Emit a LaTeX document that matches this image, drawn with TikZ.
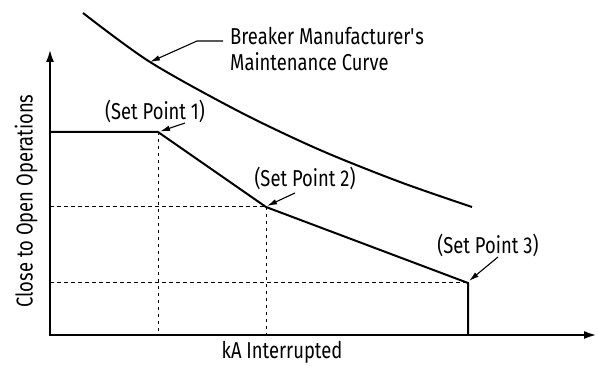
\documentclass[tikz,border=0pt]{standalone}
\usepackage{fontspec}
\setmainfont[FakeStretch=0.8]{Fira Sans}
\usetikzlibrary{arrows.meta}
\begin{document}
\begin{tikzpicture}[x=1pt, y=-1pt,
      every node/.style = {font=\fontsize{23}{26}\selectfont, inner sep=0pt},
      axis/.style = {line width=2.4pt, line join=miter,
        {Latex[length=13pt,width=8pt]}-{Latex[length=13pt,width=8pt]}},
      curve/.style = {line width=2pt},
      guide/.style = {line width=1pt, dash pattern=on 3.5pt off 3.5pt},
      pointer/.style = {line width=1.1pt, -{Latex[length=10pt,width=5.5pt]}}]
    \useasboundingbox (0,0) rectangle (598,366);
    \coordinate (origin) at (50,335);
    \coordinate (ytop) at (50,49);
    \coordinate (xend) at (597,335);
    \coordinate (start) at (50,132);
    \coordinate (sp1) at (158,132);
    \coordinate (sp2) at (266,207);
    \coordinate (sp3) at (468,283);
    \coordinate (foot) at (468,335);
    \coordinate (mc) at (150,62);
    \draw[guide] (sp1) -- (sp1 |- origin);
    \draw[guide] (sp2) -- (sp2 |- origin);
    \draw[guide] (sp2 -| origin) -- (sp2);
    \draw[guide] (sp3 -| origin) -- (sp3);
    \draw[axis] (ytop) -- (origin) -- (xend);
    \draw[curve] (start) -- (sp1) -- (sp2) -- (sp3) -- (foot);
    \draw[curve] plot[smooth] coordinates {(83,13) (mc) (240,112) (320,150) (400,182) (472,207)};
    \node[rotate=90] (ylabel) at (26,201) {Close to Open Operations};
    \node[anchor=base] (xlabel) at (282,359) {kA Interrupted};
    \node[anchor=west, align=left] (mfr) at (230,49.5) {Breaker Manufacturer\textquotesingle s\\Maintenance Curve};
    \node[anchor=base] (lbl1) at (155,120) {(Set Point 1)};
    \node[anchor=base] (lbl2) at (305,187) {(Set Point 2)};
    \node[anchor=base] (lbl3) at (488,254) {(Set Point 3)};
    \draw[pointer] ([xshift=-7pt,yshift=8.5pt]mfr.west) -- ++(-26,0) -- (mc);
    \draw[pointer] ([xshift=30pt,yshift=-3pt]lbl1.base) -- ([xshift=2pt,yshift=0.5pt]sp1);
    \draw[pointer] ([xshift=-10pt,yshift=-6pt]lbl2.base) -- ([xshift=1pt,yshift=1pt]sp2);
    \draw[pointer] ([xshift=10pt,yshift=-3pt]lbl3.base) -- ([xshift=1pt,yshift=2pt]sp3);
\end{tikzpicture}
\end{document}
